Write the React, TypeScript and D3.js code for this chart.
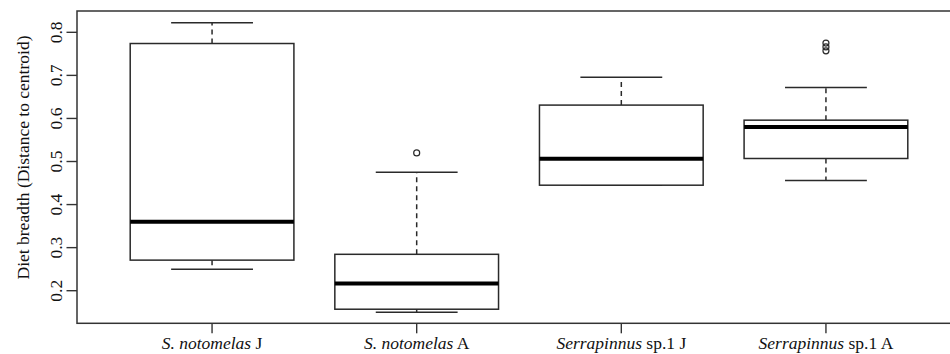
import React from "react";
import * as d3 from "d3";

const categories = ["S. notomelas J", "S. notomelas A", "Serrapinnus sp.1 J", "Serrapinnus sp.1 A"];
const italicPart = ["S. notomelas", "S. notomelas", "Serrapinnus", "Serrapinnus"];
const plainPart = [" J", " A", " sp.1 J", " sp.1 A"];
const whiskerLow = [0.25, 0.15, 0.445, 0.456];
const q1 = [0.271, 0.157, 0.445, 0.507];
const medians = [0.36, 0.217, 0.5065, 0.58];
const q3 = [0.774, 0.2845, 0.631, 0.596];
const whiskerHigh = [0.822, 0.475, 0.6955, 0.672];
const outliers: number[][] = [[], [0.52], [], [0.775, 0.766, 0.757]];
const yTicks = [0.2, 0.3, 0.4, 0.5, 0.6, 0.7, 0.8];
const yTitle = "Diet breadth (Distance to centroid)";

const W = 950;
const H = 354;
const left = 77;
const right = 961;
const top = 11;
const bottom = 323.3;

export default function App() {
  const x = d3.scaleLinear().domain([0.34, 4.66]).range([left, right]);
  const y = d3.scaleLinear().domain([0.1243, 0.8495]).range([bottom, top]);
  const boxHalf = 0.4;
  const capHalf = 0.2;
  const font = "'Liberation Serif', 'Times New Roman', serif";
  const stroke = "#2a2a2a";

  return (
    <svg
      width={W}
      height={H}
      style={{ position: "absolute", left: 0, top: 0, background: "#fff" }}
      fontFamily={font}
    >
      <rect x={0} y={0} width={W} height={H} fill="#fff" />
      {/* frame */}
      <rect x={left} y={top} width={right - left} height={bottom - top} fill="none" stroke="#333" strokeWidth={1.5} />
      {/* y axis ticks */}
      {yTicks.map((t) => (
        <g key={t}>
          <line x1={left - 10.5} x2={left} y1={y(t)} y2={y(t)} stroke="#333" strokeWidth={1.4} />
          <text
            transform={`translate(${62},${y(t)}) rotate(-90)`}
            textAnchor="middle"
            fontSize={17.5}
            fill="#111"
          >
            {d3.format(".1f")(t)}
          </text>
        </g>
      ))}
      <text
        transform={`translate(${28.5},${157.5}) rotate(-90)`}
        textAnchor="middle"
        fontSize={17.5}
        fill="#111"
      >
        {yTitle}
      </text>
      {/* boxes */}
      {categories.map((c, i) => {
        const cx = x(i + 1);
        return (
          <g key={c}>
            <line x1={cx} x2={cx} y1={y(q3[i])} y2={y(whiskerHigh[i])} stroke={stroke} strokeWidth={1.5} strokeDasharray="5,4" />
            <line x1={cx} x2={cx} y1={y(q1[i])} y2={y(whiskerLow[i])} stroke={stroke} strokeWidth={1.5} strokeDasharray="5,4" />
            <line x1={x(i + 1 - capHalf)} x2={x(i + 1 + capHalf)} y1={y(whiskerHigh[i])} y2={y(whiskerHigh[i])} stroke={stroke} strokeWidth={1.5} />
            <line x1={x(i + 1 - capHalf)} x2={x(i + 1 + capHalf)} y1={y(whiskerLow[i])} y2={y(whiskerLow[i])} stroke={stroke} strokeWidth={1.5} />
            <rect
              x={x(i + 1 - boxHalf)}
              y={y(q3[i])}
              width={x(i + 1 + boxHalf) - x(i + 1 - boxHalf)}
              height={y(q1[i]) - y(q3[i])}
              fill="#fff"
              stroke={stroke}
              strokeWidth={1.5}
            />
            <line x1={x(i + 1 - boxHalf)} x2={x(i + 1 + boxHalf)} y1={y(medians[i])} y2={y(medians[i])} stroke="#000" strokeWidth={4} />
            {outliers[i].map((o, k) => (
              <circle key={k} cx={cx} cy={y(o)} r={3} fill="none" stroke={stroke} strokeWidth={1.2} />
            ))}
            <line x1={cx} x2={cx} y1={bottom} y2={bottom + 10} stroke="#333" strokeWidth={1.4} />
            <text x={cx} y={349} textAnchor="middle" fontSize={17.5} fill="#111">
              <tspan fontStyle="italic">{italicPart[i]}</tspan>
              <tspan>{plainPart[i]}</tspan>
            </text>
          </g>
        );
      })}
    </svg>
  );
}
